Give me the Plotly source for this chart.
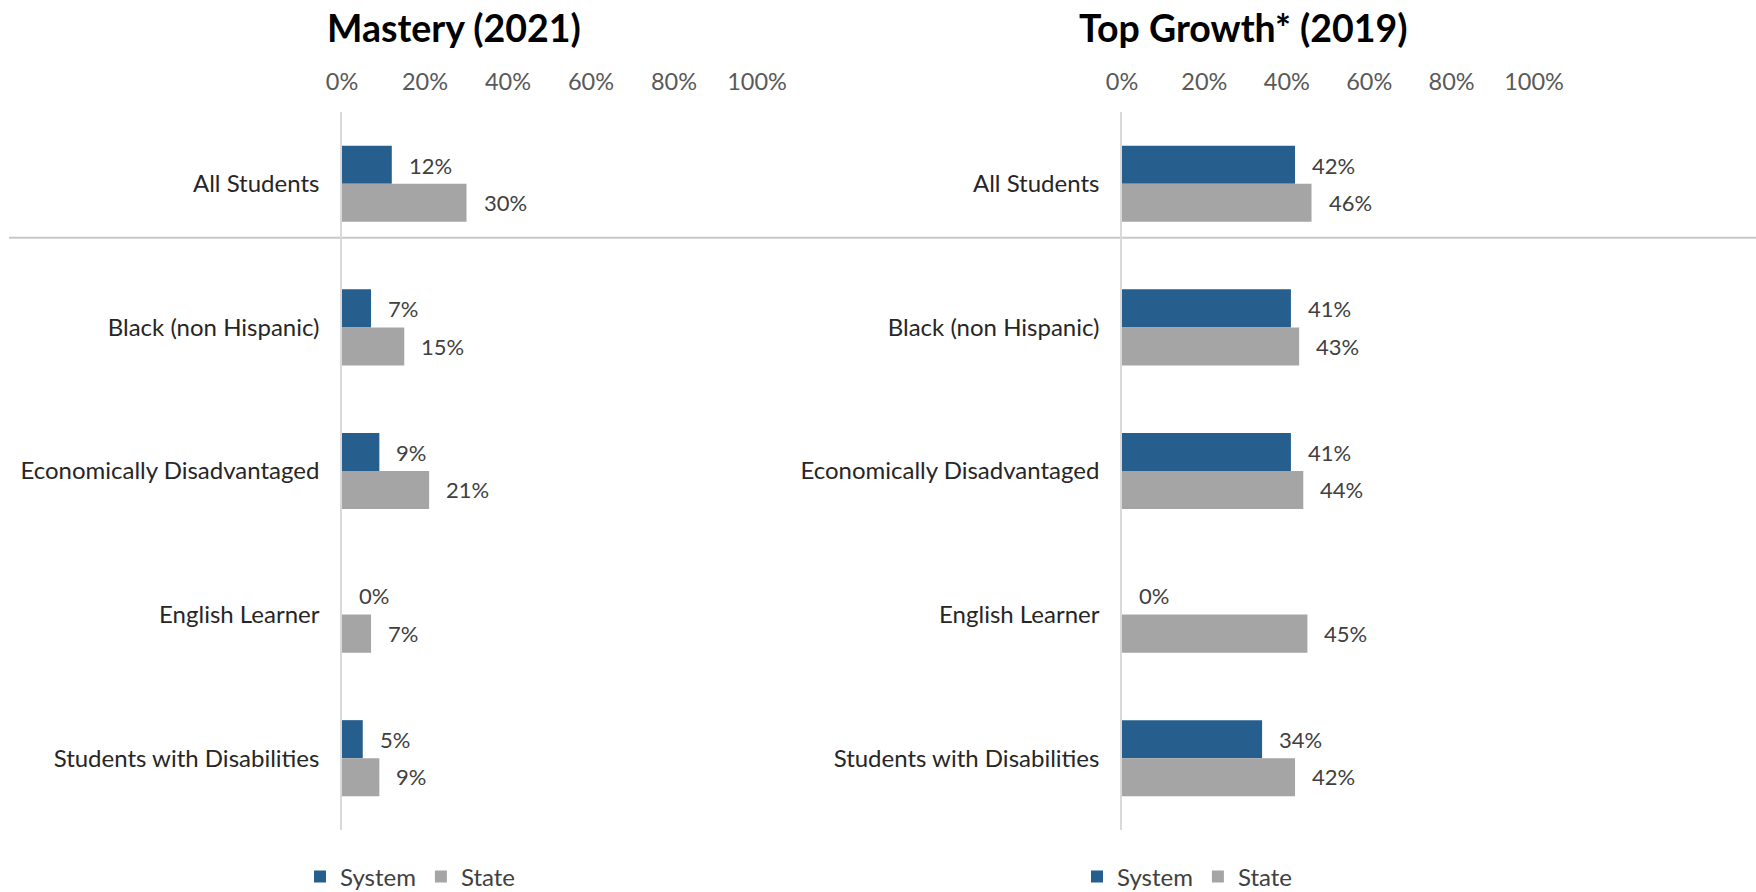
import plotly.graph_objects as go

# Student groups shown on both panels (top to bottom)
groups = [
    "All Students",
    "Black (non Hispanic)",
    "Economically Disadvantaged",
    "English Learner",
    "Students with Disabilities",
]

# Mastery (2021), share of students
mastery_system = [0.12, 0.07, 0.09, 0.00, 0.05]
mastery_state = [0.30, 0.15, 0.21, 0.07, 0.09]

# Top Growth (2019), share of students
growth_system = [0.42, 0.41, 0.41, 0.00, 0.34]
growth_state = [0.46, 0.43, 0.44, 0.45, 0.42]

panel_titles = ["Mastery (2021)", "Top Growth* (2019)"]
series_names = ["System", "State"]
tick_values = [0, 0.2, 0.4, 0.6, 0.8, 1.0]
tick_labels = ["0%", "20%", "40%", "60%", "80%", "100%"]

W, H = 1756, 892
BLUE = "#265F8E"
GREY = "#A5A5A5"
FONT = "Lato"

fig = go.Figure()

panels = [
    (mastery_system, mastery_state, "x", "y", "legend"),
    (growth_system, growth_state, "x2", "y2", "legend2"),
]

for sys_vals, state_vals, xa, ya, lg in panels:
    for name, vals, color in [
        (series_names[0], sys_vals, BLUE),
        (series_names[1], state_vals, GREY),
    ]:
        fig.add_trace(go.Bar(
            x=vals, y=groups, orientation="h", name=name,
            marker=dict(color=color, line=dict(width=0)),
            xaxis=xa, yaxis=ya, legend=lg,
            hovertemplate="%{y}: %{x:.0%}<extra>" + name + "</extra>",
        ))

# Value labels to the right of each bar
label_font = dict(family=FONT, size=22, color="#404040")
for sys_vals, state_vals, xa, ya, _ in panels:
    for i, g in enumerate(groups):
        for vals, off in [(sys_vals, -0.13), (state_vals, 0.13)]:
            fig.add_annotation(
                x=vals[i], y=i + off, xref=xa, yref=ya,
                text=f"{round(vals[i] * 100)}%", showarrow=False,
                xanchor="left", yanchor="middle", xshift=15,
                font=label_font,
            )

y_top = 1 - 112 / H
y_bot = 1 - 830 / H

def x_axis(domain, anchor):
    return dict(
        domain=domain, anchor=anchor, side="top", range=[0, 1],
        tickvals=tick_values, ticktext=tick_labels,
        showgrid=False, zeroline=False, showline=False,
        ticks="", ticklabelstandoff=16, automargin=False,
        tickfont=dict(family=FONT, size=23.5, color="#595959"),
        fixedrange=True,
    )

def y_axis(anchor):
    return dict(
        domain=[y_bot, y_top], anchor=anchor, type="category",
        categoryarray=groups, range=[4.5, -0.5],
        showgrid=False, zeroline=False,
        showline=True, linecolor="#D9D9D9", linewidth=1.5,
        ticks="", ticklabelstandoff=16, automargin=False,
        tickfont=dict(family=FONT, size=24, color="#262626"),
        fixedrange=True,
    )

legend_style = dict(
    orientation="h", yanchor="middle", xanchor="center",
    yref="container",
    font=dict(family=FONT, size=24, color="#404040"),
    bgcolor="rgba(0,0,0,0)", itemclick=False, itemdoubleclick=False,
    tracegroupgap=0,
)

fig.update_layout(
    width=W, height=H,
    margin=dict(l=0, r=0, t=0, b=0, autoexpand=False),
    paper_bgcolor="white", plot_bgcolor="white",
    barmode="group", bargap=0.47, bargroupgap=0,
    showlegend=True,
    xaxis=x_axis([342 / W, 757 / W], "y"),
    yaxis=y_axis("x"),
    xaxis2=x_axis([1122 / W, 1534 / W], "y2"),
    yaxis2=y_axis("x2"),
    legend=dict(legend_style, x=410 / W, y=1 - 877 / H),
    legend2=dict(legend_style, x=1187 / W, y=1 - 877 / H),
    font=dict(family=FONT),
)

# Panel titles
for title, cx in zip(panel_titles, [454 / W, 1243 / W]):
    fig.add_annotation(
        x=cx, y=1 - 27 / H, xref="paper", yref="paper",
        text=f"<b>{title}</b>", showarrow=False,
        xanchor="center", yanchor="middle",
        font=dict(family=FONT, size=37.5, color="#000000"),
    )

# Separator under the "All Students" row, across both panels
fig.add_shape(
    type="line", xref="paper", yref="y",
    x0=9 / W, x1=1, y0=0.376, y1=0.376,
    line=dict(color="#C8C8C8", width=2),
    layer="below",
)

fig.write_html("out.html")
